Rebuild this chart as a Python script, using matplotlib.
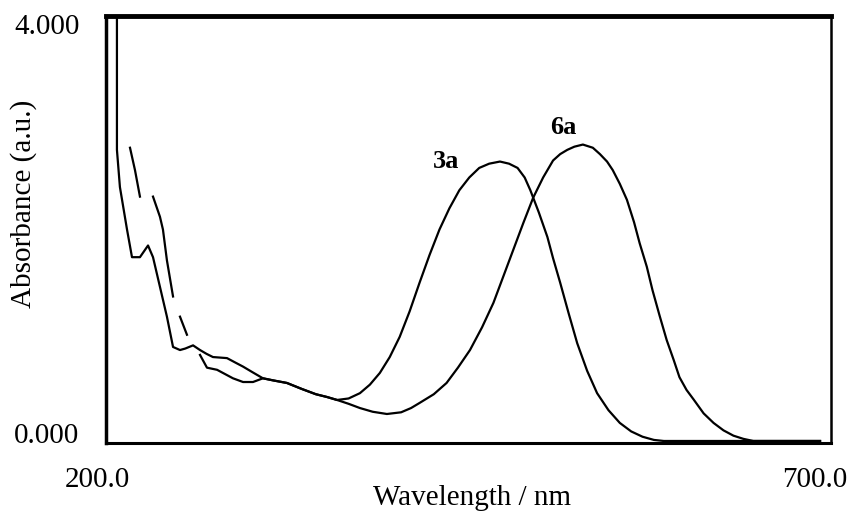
import numpy as np
import matplotlib
matplotlib.use('Agg')
import matplotlib.pyplot as plt
import matplotlib.transforms as mtransforms

plt.rcParams['font.family'] = ['Liberation Serif', 'DejaVu Serif']

# 3a: main curve
wl_3a = [204.9, 204.9, 207.0, 212.0, 215.5, 221.1, 226.8, 230.3, 235.2, 240.1,
         244.4, 249.3, 253.0, 258.5, 263.4, 268.0, 272.5, 282.4, 288.0, 293.7,
         300.0, 307.7, 315.0, 324.6, 335.0, 345.0, 352.8, 359.9, 368.0, 376.0,
         383.0, 390.0, 397.0, 404.0, 411.0, 418.0, 425.0, 432.0, 439.0, 446.0,
         453.0, 460.0, 467.0, 474.6, 481.0, 487.0, 492.0, 496.0, 502.0, 508.0,
         512.0, 517.0, 523.0, 529.0, 536.0, 543.0, 551.0, 559.0, 567.0, 575.0,
         583.0, 590.0, 640.0, 700.0]
abs_3a = [4.05, 2.74, 2.39, 1.99, 1.73, 1.73, 1.84, 1.73, 1.45, 1.17,
          0.885, 0.856, 0.87, 0.90, 0.856, 0.82, 0.79, 0.78, 0.74, 0.70,
          0.65, 0.59, 0.57, 0.546, 0.49, 0.44, 0.414, 0.386, 0.40, 0.45,
          0.53, 0.64, 0.79, 0.98, 1.22, 1.49, 1.75, 1.99, 2.19, 2.36,
          2.48, 2.57, 2.61, 2.63, 2.61, 2.57, 2.48, 2.36, 2.15, 1.92,
          1.72, 1.49, 1.20, 0.92, 0.66, 0.45, 0.29, 0.17, 0.09, 0.04,
          0.01, 0.0, 0.0, 0.0]

# 6a: broken trace at short wavelengths (gaps as NaN)
wl_6a = [214.1, 217.6, 221.1, 225.0, 230.3, 235.2, 237.3, 240.1, 244.4, 246.5,
         249.3, 254.2, 258.0, 263.4, 268.3, 275.4, 286.6, 293.7, 300.7, 307.7,
         315.0, 324.6, 335.0, 345.0, 352.8, 359.9, 368.0, 376.0, 385.0, 395.0,
         405.0, 412.0, 418.0, 428.0, 437.0, 445.0, 453.5, 462.0, 470.0, 477.0,
         484.0, 491.0, 498.0, 505.0, 512.0, 517.0, 522.0, 527.0, 533.0, 540.0,
         545.0, 550.0, 554.0, 559.0, 564.0, 569.0, 573.0, 578.0, 582.0, 587.0,
         592.0, 597.0, 601.0, 606.0, 611.0, 618.0, 625.0, 632.0, 639.0, 646.0,
         653.0, 700.0]
abs_6a = [2.76, 2.55, 2.30, np.nan, 2.30, 2.11, 1.99, 1.70, 1.36, np.nan,
          1.17, 1.00, np.nan, 0.81, 0.69, 0.67, 0.59, 0.555, 0.555, 0.59,
          0.57, 0.546, 0.49, 0.44, 0.414, 0.386, 0.35, 0.31, 0.275, 0.254,
          0.27, 0.31, 0.358, 0.44, 0.546, 0.69, 0.856, 1.07, 1.30, 1.55,
          1.80, 2.05, 2.29, 2.48, 2.64, 2.70, 2.74, 2.77, 2.79, 2.76,
          2.70, 2.63, 2.55, 2.42, 2.27, 2.06, 1.86, 1.64, 1.42, 1.18,
          0.95, 0.76, 0.60, 0.48, 0.39, 0.26, 0.17, 0.10, 0.05, 0.02,
          0.0, 0.0]

xticks = [200, 700]
xtick_labels = ['200.0', '700.0']
yticks = [0, 4]
ytick_labels = ['0.000', '4.000']

fig = plt.figure(figsize=(8.52, 5.12), dpi=100)
ax = fig.add_axes([106 / 852, 69 / 512, 725 / 852, 427 / 512])

ax.plot(wl_3a, abs_3a, color='black', lw=1.6)
ax.plot(wl_6a, abs_6a, color='black', lw=1.6)

ax.text(436.6, 2.635, '3a', fontsize=19, fontweight='bold', ha='center', va='center')
ax.text(519.0, 2.946, '6a', fontsize=19, fontweight='bold', ha='center', va='center')

ax.set_xlim(197.2, 707.7)
ax.set_ylim(-0.019, 4.0)

ax.spines['top'].set_linewidth(3.5)
ax.spines['left'].set_linewidth(2.5)
ax.spines['bottom'].set_linewidth(2.2)
ax.spines['right'].set_linewidth(1.8)

ax.set_xticks(xticks)
ax.set_xticklabels(xtick_labels, fontsize=21)
ax.set_yticks(yticks)
ax.set_yticklabels(ytick_labels, fontsize=21)
ax.tick_params(axis='x', length=0, pad=17)
ax.tick_params(axis='y', length=0, pad=19)

# nudge tick labels like the original instrument printout
for lab, dx in zip(ax.get_xticklabels(), [-12.5, -5]):
    lab.set_transform(lab.get_transform() + mtransforms.ScaledTranslation(dx / 100, 0, fig.dpi_scale_trans))
for lab, dy in zip(ax.get_yticklabels(), [8, -7.5]):
    lab.set_transform(lab.get_transform() + mtransforms.ScaledTranslation(0, dy / 100, fig.dpi_scale_trans))

ax.set_xlabel('Wavelength / nm', fontsize=21)
ax.set_ylabel('Absorbance (a.u.)', fontsize=21)
ax.xaxis.set_label_coords(0.505, -0.098)
ax.yaxis.set_label_coords(-0.095, 0.560)

fig.savefig('out.png', dpi=100)
